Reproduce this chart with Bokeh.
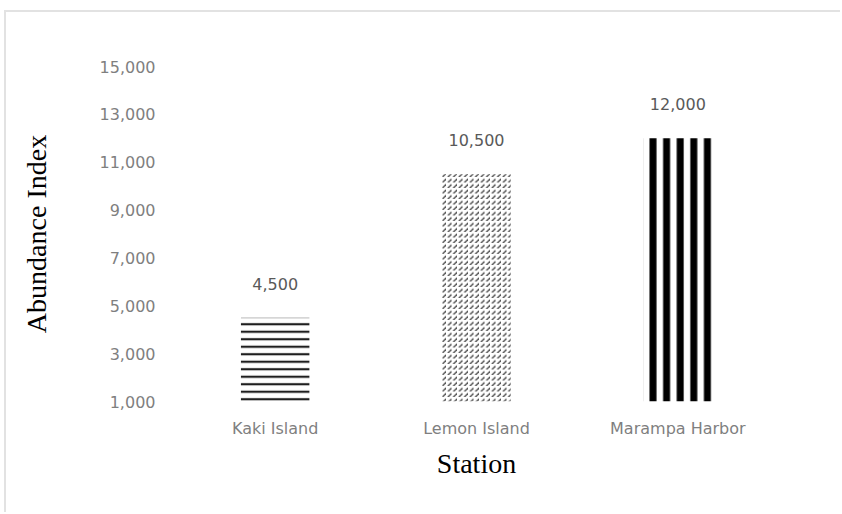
from bokeh.plotting import figure
from bokeh.models import (Range1d, FactorRange, NumeralTickFormatter, FixedTicker,
                          ColumnDataSource, LabelSet)
from bokeh.core.properties import value
from bokeh.embed import file_html
from bokeh.resources import INLINE

# Abundance index per sampling station
stations = ["Kaki Island", "Lemon Island", "Marampa Harbor"]
abundance = [4500, 10500, 12000]
y_ticks = [1000, 3000, 5000, 7000, 9000, 11000, 13000, 15000]
y_min, y_max = 1000, 15000

TICK_FONT = "DejaVu Sans"
TITLE_FONT = "Liberation Serif"
GREY = "#7f7f7f"

p = figure(x_range=FactorRange(*stations, range_padding=0),
           y_range=Range1d(y_min, y_max),
           width=836, height=502,
           output_backend="svg", toolbar_location=None,
           min_border_left=168, min_border_right=64,
           min_border_top=54, min_border_bottom=113)
p.margin = (10, 0, 0, 4)
p.styles = {"border-top": "2px solid #e2e2e2", "border-left": "2px solid #e2e2e2"}
p.outline_line_color = None
p.grid.visible = False
p.background_fill_color = "white"
p.border_fill_color = "white"

# one hatched bar per station, each with its own fill pattern
bar_styles = [
    dict(hatch_pattern="horizontal_line", hatch_scale=7.5, hatch_weight=2.2, hatch_color="#1e1e1e"),
    dict(hatch_pattern="right_diagonal_dash", hatch_scale=5.5, hatch_weight=1.5, hatch_color="#555555"),
    dict(hatch_pattern="vertical_line", hatch_scale=13.6, hatch_weight=7, hatch_color="#000000"),
]
for name, val, style in zip(stations, abundance, bar_styles):
    p.vbar(x=[name], top=[val], bottom=y_min, width=0.34,
           fill_color="white", line_color=None, **style)

# value labels above bars
labels_src = ColumnDataSource(dict(x=stations, y=abundance,
                                   text=[f"{v:,}" for v in abundance]))
p.add_layout(LabelSet(x="x", y="y", text="text", source=labels_src,
                      text_align="center", text_baseline="bottom", y_offset=28,
                      text_font=value(TICK_FONT), text_font_size=value("16px"),
                      text_color="#595959"))

# axes
p.yaxis.ticker = FixedTicker(ticks=y_ticks)
p.yaxis.formatter = NumeralTickFormatter(format="0,0")
for ax in (p.xaxis[0], p.yaxis[0]):
    ax.axis_line_color = None
    ax.major_tick_line_color = None
    ax.minor_tick_line_color = None
    ax.major_label_text_font = TICK_FONT
    ax.major_label_text_font_size = "16px"
    ax.major_label_text_color = GREY
    ax.axis_label_text_font = TITLE_FONT
    ax.axis_label_text_font_size = "28px"
    ax.axis_label_text_font_style = "normal"
    ax.axis_label_text_color = "#000000"

p.yaxis.axis_label = "Abundance Index"
p.yaxis.major_label_standoff = 13
p.yaxis.axis_label_standoff = 45
p.xaxis.axis_label = "Station"
p.xaxis.major_label_standoff = 11
p.xaxis.axis_label_standoff = 7

open("out.html", "w").write(file_html(p, INLINE))
